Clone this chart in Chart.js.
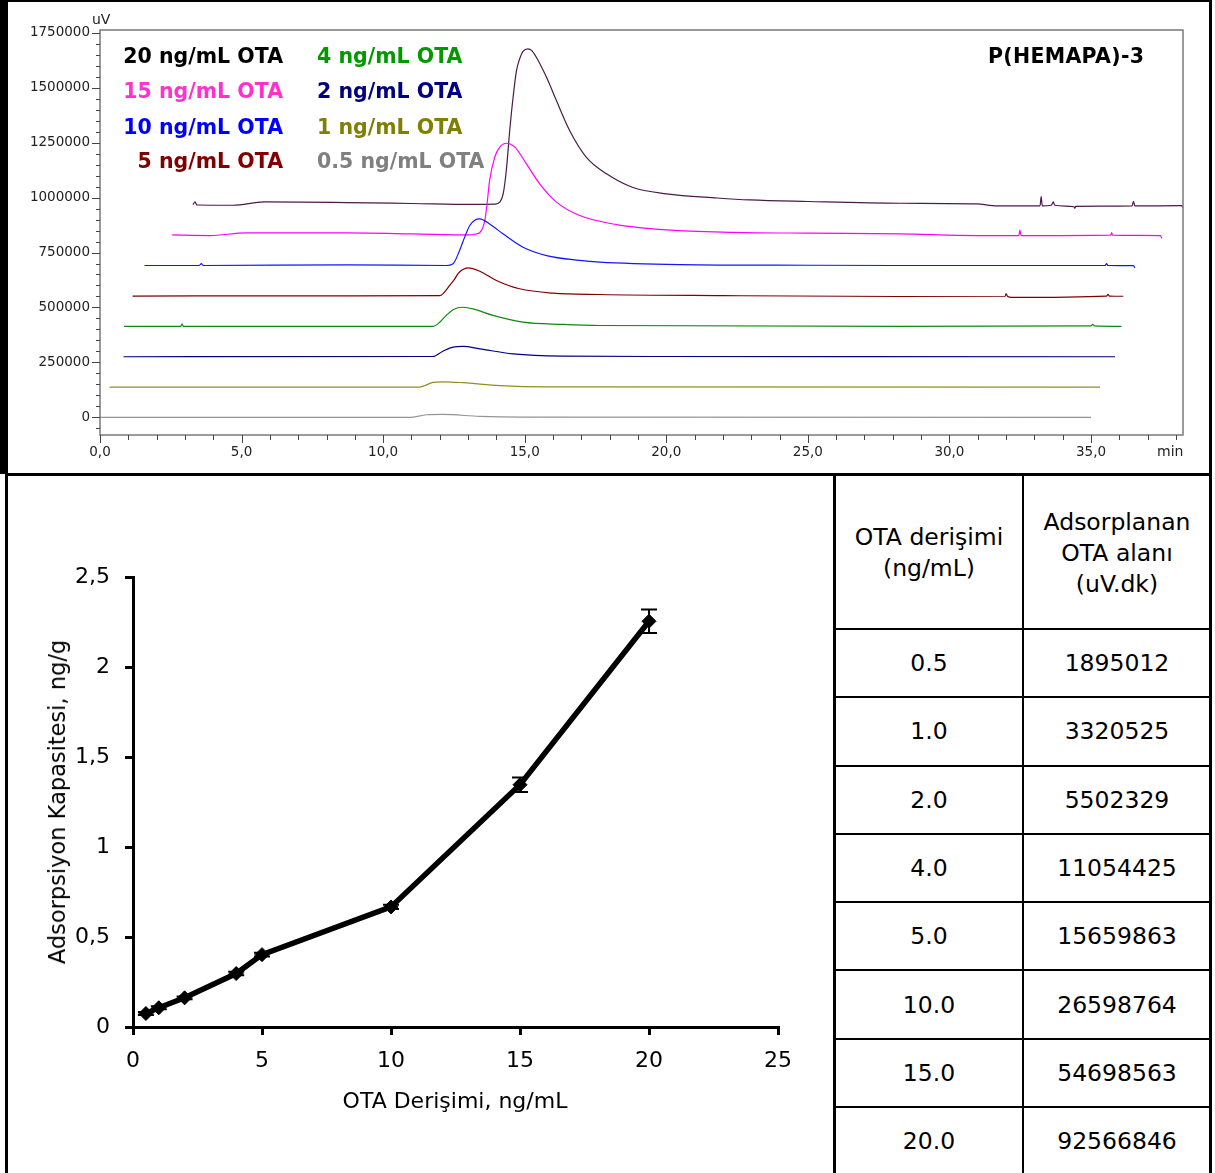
<!DOCTYPE html>
<html><head><meta charset="utf-8">
<script src="https://cdn.jsdelivr.net/npm/chart.js@4.4.1/dist/chart.umd.min.js"></script>
<style>
html,body{margin:0;padding:0;background:#fff;}
body{width:1215px;height:1173px;position:relative;overflow:hidden;font-family:"DejaVu Sans",sans-serif;color:#000;}
.ln{position:absolute;background:#000;}
.leg{position:absolute;font-weight:bold;font-size:20.5px;line-height:24px;white-space:nowrap;}
.txt{position:absolute;white-space:nowrap;}
#tbl{position:absolute;left:834px;top:474px;width:378px;border-collapse:collapse;table-layout:fixed;font-size:23.5px;}
#tbl th,#tbl td{border:2.5px solid #000;text-align:center;font-weight:normal;padding:0;}
#tbl th{height:150px;line-height:31px;padding-top:2px;}
#tbl td{height:66.3px;}
</style></head><body>

<div id="wrap1" style="position:absolute;left:0;top:0;width:1205px;height:472px;"><canvas id="c1" width="1205" height="472"></canvas></div>
<div id="wrap2" style="position:absolute;left:8px;top:476px;width:825px;height:697px;"><canvas id="c2" width="825" height="697"></canvas></div>

<div class="leg" style="right:932px;top:44px;color:#000">20 ng/mL OTA</div>
<div class="leg" style="right:932px;top:79px;color:#ff33cc">15 ng/mL OTA</div>
<div class="leg" style="right:932px;top:115px;color:#0000ff">10 ng/mL OTA</div>
<div class="leg" style="right:932px;top:149px;color:#800000">5 ng/mL OTA</div>
<div class="leg" style="left:317px;top:44px;color:#009900">4 ng/mL OTA</div>
<div class="leg" style="left:317px;top:79px;color:#000080">2 ng/mL OTA</div>
<div class="leg" style="left:317px;top:115px;color:#808000">1 ng/mL OTA</div>
<div class="leg" style="left:317px;top:149px;color:#808080">0.5 ng/mL OTA</div>
<div class="leg" style="left:988px;top:44px;color:#000;letter-spacing:0.3px">P(HEMAPA)-3</div>
<div class="txt" style="left:92px;top:11px;font-size:14px;color:#222">uV</div>
<div class="txt" style="left:1157px;top:443px;font-size:14px;color:#222">min</div>

<div class="txt" style="left:57px;top:802px;font-size:22.5px;transform:translate(-50%,-50%) rotate(-90deg);">Adsorpsiyon Kapasitesi, ng/g</div>
<div class="txt" style="left:455px;top:1100px;font-size:22px;transform:translate(-50%,-50%);">OTA Derişimi, ng/mL</div>

<table id="tbl">
<thead><tr><th>OTA derişimi<br>(ng/mL)</th><th>Adsorplanan<br>OTA alanı<br>(uV.dk)</th></tr></thead>
<tbody id="tb"></tbody>
</table>

<div class="ln" style="left:0;top:0;width:1212px;height:2px;"></div>
<div class="ln" style="left:5px;top:0;width:3px;height:1173px;"></div>
<div class="ln" style="left:0;top:0;width:8px;height:474px;"></div>
<div class="ln" style="left:1209px;top:0;width:3px;height:1173px;"></div>
<div class="ln" style="left:5px;top:473px;width:1207px;height:3px;"></div>
<div class="ln" style="left:833px;top:473px;width:3px;height:700px;"></div>

<script>
// ---------- Chromatogram data (time in min, signal in uV) ----------
const concLabels = ['20', '15', '10', '5', '4', '2', '1', '0.5'];

const t20 = [3.28,3.36,3.42,4.7,5.8,8.7,11.0,13.2,13.95,14.12,14.24,14.35,14.47,14.59,14.71,14.82,14.94,15.12,15.25,15.41,15.77,16.12,16.59,17.18,17.89,18.8,20.0,21.8,22.95,25.0,28.25,30.96,31.67,33.2,33.24,33.28,33.6,33.67,33.72,34.4,34.43,34.46,36.45,36.5,36.55,38.2,38.25];
const s20 = [968000,980000,966000,965000,980000,977000,973000,969000,970000,979000,1017000,1123000,1304000,1456000,1577000,1630000,1665000,1676000,1668000,1638000,1547000,1441000,1304000,1183000,1108000,1047000,1017000,998000,989000,982000,974000,971000,962000,962000,1004000,962000,965000,980000,965000,958000,951000,960000,962000,983000,962000,963000,955000];

const t15 = [2.55,3.87,5.17,8.7,11.0,13.06,13.29,13.41,13.59,13.67,13.76,13.94,14.12,14.35,14.65,15.06,15.53,16.12,16.94,18.24,20.0,22.36,25.0,28.25,30.96,32.45,32.49,32.53,35.7,35.73,35.76,37.45,37.5];
const s15 = [830000,827000,839000,839000,835000,830000,835000,840000,895000,971000,1077000,1183000,1229000,1247000,1229000,1153000,1062000,979000,918000,877000,853000,842000,838000,835000,827000,827000,852000,827000,829000,840000,829000,827000,815000];

const t10 = [1.57,3.5,3.58,3.65,8.7,12.23,12.47,12.7,12.88,13.06,13.25,13.41,13.76,14.23,14.94,15.77,16.94,17.65,20.48,25.0,28.25,35.5,35.55,35.6,36.5,36.55];
const s10 = [691000,691000,699000,691000,694000,691000,699000,759000,820000,873000,898000,903000,880000,835000,774000,736000,714000,706000,695000,692000,691000,691000,699000,691000,690000,680000];

const t5 = [1.15,8.0,12.0,12.11,12.35,12.53,12.64,12.8,13.0,13.41,14.0,14.82,16.0,17.65,22.0,28.25,31.97,32.0,32.05,32.2,35.55,35.6,35.65,36.14];
const s5 = [552000,553000,554000,562000,600000,630000,653000,672000,680000,665000,623000,585000,565000,559000,554000,550000,551000,563000,551000,546000,552000,560000,552000,551000];

const t4 = [0.85,2.85,2.9,2.95,11.76,12.0,12.23,12.47,12.82,13.17,13.88,14.94,16.35,17.65,28.25,35.0,35.06,35.12,36.08];
const s4 = [414000,414000,425000,414000,414000,433000,464000,490000,501000,494000,464000,433000,423000,418000,414000,416000,423000,416000,414000];

const t2 = [0.83,11.76,12.11,12.47,12.82,13.41,14.59,16.35,20.0,35.85];
const s2 = [276000,277000,301000,320000,323000,312000,289000,279000,277000,276000];

const t1 = [0.34,11.29,11.76,12.11,12.82,14.12,15.77,35.32];
const s1 = [138000,138000,159000,162000,158000,145000,139000,138000];

const t05 = [0.0,10.94,11.53,12.11,13.41,14.9,35.0];
const s05 = [0,0,12000,13600,4500,1000,0];

// axis tick values of the chromatogram
const timeTicks = [0,1,2,3,4,5,6,7,8,9,10,11,12,13,14,15,16,17,18,19,20,21,22,23,24,25,26,27,28,29,30,31,32,33,34,35,36,37,38];
const signalMajor = [0, 250000, 500000, 750000, 1000000, 1250000, 1500000, 1750000];
const signalMinorStep = 50000;

// ---------- Adsorption capacity data ----------
const concentrations = [0.5, 1, 2, 4, 5, 10, 15, 20];
const capacity = [0.075, 0.107, 0.162, 0.297, 0.402, 0.667, 1.346, 2.254];
const capacityErr = [0.008, 0.008, 0.008, 0.01, 0.01, 0.012, 0.04, 0.065];

// ---------- Table data ----------
const tableConc = ['0.5', '1.0', '2.0', '4.0', '5.0', '10.0', '15.0', '20.0'];
const tableArea = [1895012, 3320525, 5502329, 11054425, 15659863, 26598764, 54698563, 92566846];

// ---------- build table ----------
const tb = document.getElementById('tb');
tableConc.forEach((c, i) => {
  const tr = document.createElement('tr');
  tr.innerHTML = '<td>' + c + '</td><td>' + tableArea[i] + '</td>';
  tb.appendChild(tr);
});

Chart.defaults.font.family = "'DejaVu Sans', sans-serif";
Chart.defaults.color = '#000';

// ---------- chromatogram ----------
const traces = [
  [t05, s05, '#959595'],
  [t1, s1, '#8f8f20'],
  [t2, s2, '#000080'],
  [t4, s4, '#108a10'],
  [t5, s5, '#800000'],
  [t10, s10, '#1414ff'],
  [t15, s15, '#ff00ff'],
  [t20, s20, '#4a1a48']
];

function signalTicks() {
  const arr = [];
  for (let v = -signalMinorStep; v <= signalMajor[signalMajor.length - 1]; v += signalMinorStep) arr.push({value: v});
  return arr;
}

const chromFrame = {
  id: 'chromFrame',
  afterDraw(chart) {
    const {ctx, chartArea: a, scales: {x, y}} = chart;
    ctx.save();
    ctx.strokeStyle = '#7a7a7a';
    ctx.lineWidth = 1.5;
    ctx.strokeRect(a.left, a.top, a.right - a.left, a.bottom - a.top);
    ctx.strokeStyle = '#444';
    ctx.lineWidth = 1;
    ctx.beginPath();
    x.ticks.forEach(t => {
      const px = Math.round(x.getPixelForValue(t.value)) + 0.5;
      const len = t.value % 5 === 0 ? 8 : 5;
      ctx.moveTo(px, a.bottom);
      ctx.lineTo(px, a.bottom + len);
    });
    y.ticks.forEach(t => {
      const py = Math.round(y.getPixelForValue(t.value)) + 0.5;
      const len = signalMajor.includes(t.value) ? 8 : 4;
      ctx.moveTo(a.left, py);
      ctx.lineTo(a.left - len, py);
    });
    ctx.stroke();
    ctx.restore();
  }
};

new Chart(document.getElementById('c1'), {
  type: 'scatter',
  data: {
    datasets: traces.map((tr, k) => ({
      label: concLabels[7 - k],
      data: tr[0].map((t, i) => ({x: t, y: tr[1][i]})),
      showLine: true,
      borderColor: tr[2],
      borderWidth: 1.2,
      pointRadius: 0,
      cubicInterpolationMode: 'monotone',
      fill: false
    }))
  },
  options: {
    responsive: false,
    animation: false,
    layout: {padding: {left: 10, right: 22, top: 30, bottom: 0}},
    plugins: {legend: {display: false}, tooltip: {enabled: false}},
    scales: {
      x: {
        type: 'linear', min: 0, max: 38.25,
        grid: {display: false, drawTicks: false},
        border: {display: false},
        afterBuildTicks: s => { s.ticks = timeTicks.map(v => ({value: v})); },
        ticks: {
          autoSkip: false, maxRotation: 0, minRotation: 0,
          padding: 9, color: '#222', font: {size: 13.5},
          callback: v => (v % 5 === 0) ? Number(v).toFixed(1).replace('.', ',') : ''
        },
        afterFit: s => { s.height = 37; }
      },
      y: {
        type: 'linear', min: -80000, max: 1762000,
        grid: {display: false, drawTicks: false},
        border: {display: false},
        afterBuildTicks: s => { s.ticks = signalTicks(); },
        ticks: {
          autoSkip: false,
          padding: 10, color: '#222', font: {size: 13.5},
          callback: v => signalMajor.includes(v) ? String(v) : ''
        },
        afterFit: s => { s.width = 90; }
      }
    }
  },
  plugins: [chromFrame]
});

// ---------- adsorption capacity ----------
const errorBars = {
  id: 'errorBars',
  afterDatasetsDraw(chart) {
    const {ctx, scales: {x, y}} = chart;
    ctx.save();
    ctx.strokeStyle = '#000';
    ctx.lineWidth = 2;
    concentrations.forEach((c, i) => {
      const px = x.getPixelForValue(c);
      const top = y.getPixelForValue(capacity[i] + capacityErr[i]);
      const bot = y.getPixelForValue(capacity[i] - capacityErr[i]);
      ctx.beginPath();
      ctx.moveTo(px, top); ctx.lineTo(px, bot);
      ctx.moveTo(px - 8, top); ctx.lineTo(px + 8, top);
      ctx.moveTo(px - 8, bot); ctx.lineTo(px + 8, bot);
      ctx.stroke();
    });
    ctx.restore();
  }
};

new Chart(document.getElementById('c2'), {
  type: 'scatter',
  data: {
    datasets: [{
      data: concentrations.map((c, i) => ({x: c, y: capacity[i]})),
      showLine: true,
      borderColor: '#000',
      borderWidth: 5.5,
      pointStyle: 'rectRot',
      pointRadius: 7,
      pointBackgroundColor: '#000',
      pointBorderColor: '#000',
      pointBorderWidth: 1,
      tension: 0
    }]
  },
  options: {
    responsive: false,
    animation: false,
    layout: {padding: {left: 35, right: 55, top: 101, bottom: 0}},
    plugins: {legend: {display: false}, tooltip: {enabled: false}},
    scales: {
      x: {
        type: 'linear', min: 0, max: 25,
        grid: {drawOnChartArea: false, drawTicks: true, tickLength: 8, color: '#000', lineWidth: 3},
        border: {display: true, color: '#000', width: 3},
        ticks: {stepSize: 5, padding: 13, color: '#000', font: {size: 22}, maxRotation: 0},
        afterFit: s => { s.height = 146; }
      },
      y: {
        type: 'linear', min: 0, max: 2.5,
        grid: {drawOnChartArea: false, drawTicks: true, tickLength: 8, color: '#000', lineWidth: 3},
        border: {display: true, color: '#000', width: 3},
        ticks: {stepSize: 0.5, padding: 15, color: '#000', font: {size: 22},
          callback: v => String(Math.round(v * 10) / 10).replace('.', ',')},
        afterFit: s => { s.width = 90; }
      }
    }
  },
  plugins: [errorBars]
});
</script>
</body></html>
